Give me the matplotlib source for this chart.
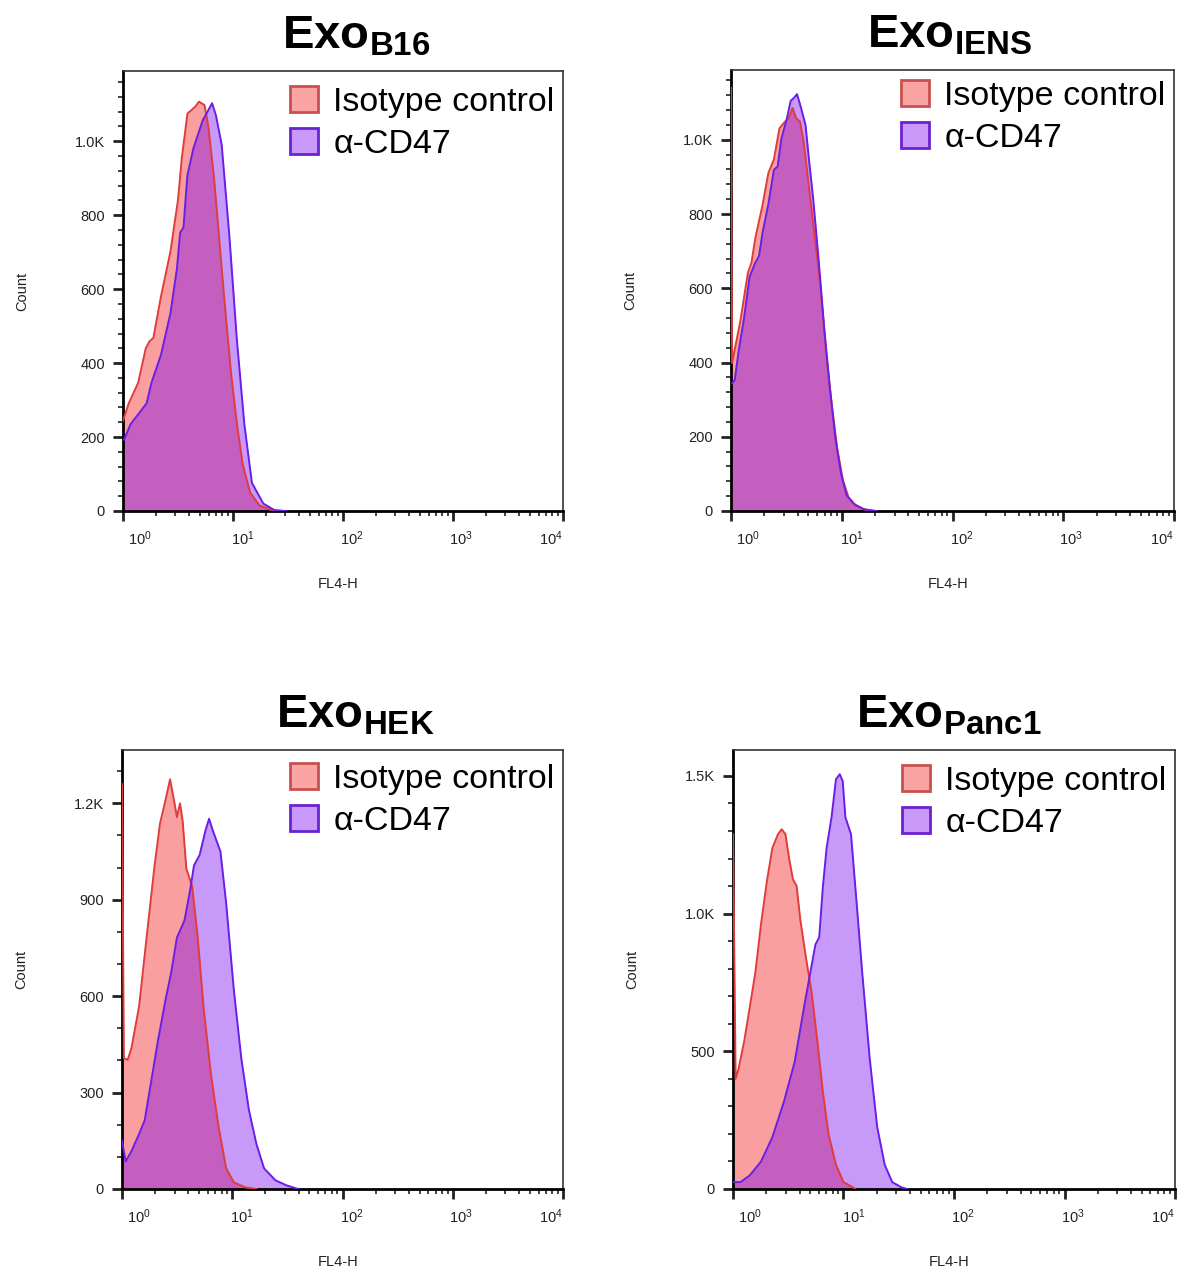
import numpy as np
import matplotlib
matplotlib.use("Agg")
import matplotlib.pyplot as plt
import matplotlib.transforms as mtransforms
from matplotlib.patches import Patch
from matplotlib.ticker import FixedLocator, MultipleLocator, FuncFormatter, LogLocator, NullFormatter

plt.rcParams["font.family"] = ["Liberation Sans", "DejaVu Sans"]
plt.rcParams["mathtext.fontset"] = "custom"
plt.rcParams["mathtext.rm"] = "Liberation Sans"
plt.rcParams["mathtext.bf"] = "Liberation Sans:bold"
plt.rcParams["mathtext.it"] = "Liberation Sans:italic"

# FL4-H positions are stored as log10 exponents, counts as read per channel

# Exo B16
b16_iso_exp = [0.0, 0.052, 0.138, 0.207, 0.241, 0.276, 0.345, 0.431, 0.500, 0.534, 0.586, 0.621,
               0.655, 0.690, 0.741, 0.776, 0.828, 0.879, 0.931, 0.983, 1.034, 1.086, 1.155, 1.241,
               1.345, 1.448]
b16_iso_cnt = [244, 291, 347, 440, 459, 468, 580, 701, 841, 953, 1075, 1084,
               1093, 1107, 1098, 1040, 900, 720, 540, 370, 240, 130, 50, 15,
               3, 0]
b16_cd47_exp = [0.010, 0.069, 0.155, 0.214, 0.259, 0.345, 0.431, 0.490, 0.520, 0.550, 0.585, 0.640,
                0.724, 0.776, 0.810, 0.845, 0.897, 0.966, 1.034, 1.103, 1.172, 1.276, 1.379, 1.483]
b16_cd47_cnt = [193, 235, 268, 291, 347, 422, 534, 655, 753, 767, 907, 981,
                1056, 1084, 1103, 1070, 991, 748, 468, 235, 76, 20, 2, 0]

# Exo IENS
iens_iso_exp = [0.0, 0.010, 0.084, 0.152, 0.185, 0.219, 0.286, 0.337, 0.387, 0.438, 0.488, 0.522,
                0.556, 0.589, 0.623, 0.657, 0.707, 0.758, 0.808, 0.859, 0.909, 0.960, 1.010, 1.061,
                1.128, 1.229, 1.313]
iens_iso_cnt = [1140, 399, 511, 641, 669, 734, 826, 910, 947, 1031, 1049, 1058,
                1086, 1058, 1049, 993, 864, 734, 604, 427, 288, 167, 84, 37,
                14, 2, 0]
iens_cd47_exp = [0.010, 0.034, 0.067, 0.118, 0.168, 0.219, 0.253, 0.286, 0.337, 0.387, 0.421, 0.455,
                 0.505, 0.539, 0.572, 0.596, 0.623, 0.673, 0.707, 0.741, 0.791, 0.842, 0.892, 0.943,
                 0.993, 1.044, 1.111, 1.195, 1.313]
iens_cd47_cnt = [344, 353, 427, 520, 631, 669, 687, 752, 826, 919, 928, 1003,
                 1058, 1105, 1114, 1123, 1096, 1040, 938, 845, 678, 492, 334, 195,
                 102, 42, 19, 5, 0]

# Exo HEK
hek_iso_exp = [0.0, 0.017, 0.052, 0.086, 0.155, 0.223, 0.292, 0.344, 0.395, 0.436, 0.471, 0.498,
               0.526, 0.550, 0.584, 0.636, 0.687, 0.739, 0.808, 0.876, 0.945, 1.014, 1.117, 1.220]
hek_iso_cnt = [1260, 407, 402, 439, 568, 782, 996, 1136, 1211, 1275, 1211, 1157,
               1200, 1146, 996, 943, 782, 568, 354, 193, 64, 21, 5, 0]
hek_cd47_exp = [0.0, 0.034, 0.086, 0.155, 0.206, 0.258, 0.326, 0.395, 0.447, 0.498, 0.567, 0.619,
                0.653, 0.704, 0.756, 0.790, 0.825, 0.859, 0.893, 0.945, 1.014, 1.082, 1.151, 1.220,
                1.289, 1.392, 1.495, 1.598]
hek_cd47_cnt = [150, 86, 118, 171, 214, 321, 461, 589, 675, 782, 836, 932,
                1007, 1039, 1114, 1152, 1114, 1082, 1050, 889, 621, 407, 246, 139,
                64, 27, 11, 0]

# Exo Panc1
panc_iso_exp = [0.0, 0.024, 0.051, 0.102, 0.153, 0.203, 0.254, 0.305, 0.356, 0.407, 0.441, 0.475,
                0.508, 0.542, 0.576, 0.610, 0.661, 0.712, 0.763, 0.814, 0.864, 0.932, 1.000, 1.102]
panc_iso_cnt = [1288, 400, 438, 538, 663, 788, 963, 1113, 1238, 1288, 1306, 1288,
                1200, 1125, 1100, 975, 838, 713, 538, 350, 200, 88, 25, 2]
panc_cd47_exp = [0.0, 0.068, 0.153, 0.254, 0.356, 0.458, 0.559, 0.644, 0.712, 0.746, 0.780, 0.814,
                 0.847, 0.892, 0.932, 0.966, 0.993, 1.017, 1.068, 1.119, 1.169, 1.237, 1.305, 1.373,
                 1.441, 1.525, 1.576]
panc_cd47_cnt = [25, 25, 50, 100, 188, 313, 463, 663, 813, 888, 913, 1100,
                 1238, 1350, 1488, 1506, 1481, 1350, 1288, 1038, 788, 475, 225, 88,
                 25, 6, 0]

titles = ["B16", "IENS", "HEK", "Panc1"]
series_labels = ["Isotype control", "\u03b1-CD47"]
x_tick_labels = [r"$10^{0}$", r"$10^{1}$", r"$10^{2}$", r"$10^{3}$", r"$10^{4}$"]

RED_FILL, RED_EDGE = "#f54141", "#e03c3c"
PUR_FILL, PUR_EDGE = "#7500f2", "#6a1ee6"

fig = plt.figure(figsize=(11.79, 12.72), dpi=100)

# panel boxes in figure pixels: left, right, top, bottom
boxes = [(123, 563, 71, 511), (731, 1174, 70, 511), (122, 563, 750, 1189), (733, 1175, 750, 1189)]
title_x = [0.53, 0.494, 0.53, 0.489]
legend_drop = [6, 1, 4, 6]
y_limits = [1190, 1188, 1366, 1594]
y_major = [200, 200, 300, 500]
y_minor = [40, 40, 100, 100]
data = [
    (b16_iso_exp, b16_iso_cnt, b16_cd47_exp, b16_cd47_cnt),
    (iens_iso_exp, iens_iso_cnt, iens_cd47_exp, iens_cd47_cnt),
    (hek_iso_exp, hek_iso_cnt, hek_cd47_exp, hek_cd47_cnt),
    (panc_iso_exp, panc_iso_cnt, panc_cd47_exp, panc_cd47_cnt),
]


def count_fmt(v, pos):
    if v >= 1000:
        return f"{v / 1000:.1f}K"
    return f"{v:.0f}"


W, H = 1179, 1272
for i, (l, r, t, b) in enumerate(boxes):
    ax = fig.add_axes([l / W, 1 - b / H, (r - l) / W, (b - t) / H])
    iso_e, iso_n, cd_e, cd_n = data[i]
    xi = 10 ** np.array(iso_e)
    xc = 10 ** np.array(cd_e)

    ax.fill_between(xi, iso_n, color=RED_FILL, alpha=0.5, lw=0, zorder=1)
    ax.fill_between(xc, cd_n, color=PUR_FILL, alpha=0.4, lw=0, zorder=1.1)
    ax.plot(xi, iso_n, color=RED_EDGE, lw=1.4, zorder=2.6)
    ax.plot(xc, cd_n, color=PUR_EDGE, lw=1.4, zorder=2.6)

    ax.set_xscale("log")
    ax.set_xlim(1, 1e4)
    ax.set_ylim(0, y_limits[i])

    ax.xaxis.set_major_locator(FixedLocator([1, 10, 100, 1000, 10000]))
    ax.set_xticklabels(x_tick_labels)
    ax.xaxis.set_minor_locator(LogLocator(base=10, subs=np.arange(2, 10), numticks=20))
    ax.xaxis.set_minor_formatter(NullFormatter())
    ax.yaxis.set_major_locator(MultipleLocator(y_major[i]))
    ax.yaxis.set_minor_locator(MultipleLocator(y_minor[i]))
    ax.yaxis.set_major_formatter(FuncFormatter(count_fmt))

    ax.tick_params(which="major", direction="out", length=7, width=2,
                   colors="#222222")
    ax.tick_params(axis="x", which="major", labelsize=10.5, pad=6)
    ax.tick_params(axis="y", which="major", labelsize=10.5, pad=6)
    ax.tick_params(which="minor", direction="out", length=3.5, width=1.2, colors="#222222")

    # FlowJo-style decade labels sit a little right of their ticks
    for lbl, dx in zip(ax.get_xticklabels(), [17, 10, 9, 8, -12]):
        lbl.set_transform(lbl.get_transform() + mtransforms.ScaledTranslation(dx / 100, 0, fig.dpi_scale_trans))

    for side in ["left", "bottom"]:
        ax.spines[side].set_linewidth(2)
        ax.spines[side].set_color("black")
    for side in ["top", "right"]:
        ax.spines[side].set_linewidth(1.2)
        ax.spines[side].set_color("#333333")

    ax.set_ylabel("Count", fontsize=10.5, color="#222222")
    ax.yaxis.set_label_coords(-0.212, 0.5)
    ax.set_xlabel("FL4-H", fontsize=10.5, color="#222222")
    ax.xaxis.set_label_coords(0.49, -0.15)

    handles = [
        Patch(facecolor="#fba4a4", edgecolor="#c85050", lw=2),
        Patch(facecolor="#c999fa", edgecolor="#6a22d0", lw=2),
    ]
    ax.legend(handles, series_labels, loc="upper right", fontsize=24.5, frameon=False,
              bbox_to_anchor=(1.0, 1.0 - legend_drop[i] / (b - t)),
              borderpad=0.1, borderaxespad=0.15, handlelength=0.82, handleheight=0.82,
              handletextpad=0.44, labelspacing=0.3)

    ax.annotate(r"$\mathbf{Exo}_{\mathbf{" + titles[i] + "}}$", xy=(title_x[i], 1),
                xycoords="axes fraction", xytext=(0, 9), textcoords="offset points",
                ha="center", va="bottom", fontsize=34)

fig.savefig("out.png", dpi=100)
